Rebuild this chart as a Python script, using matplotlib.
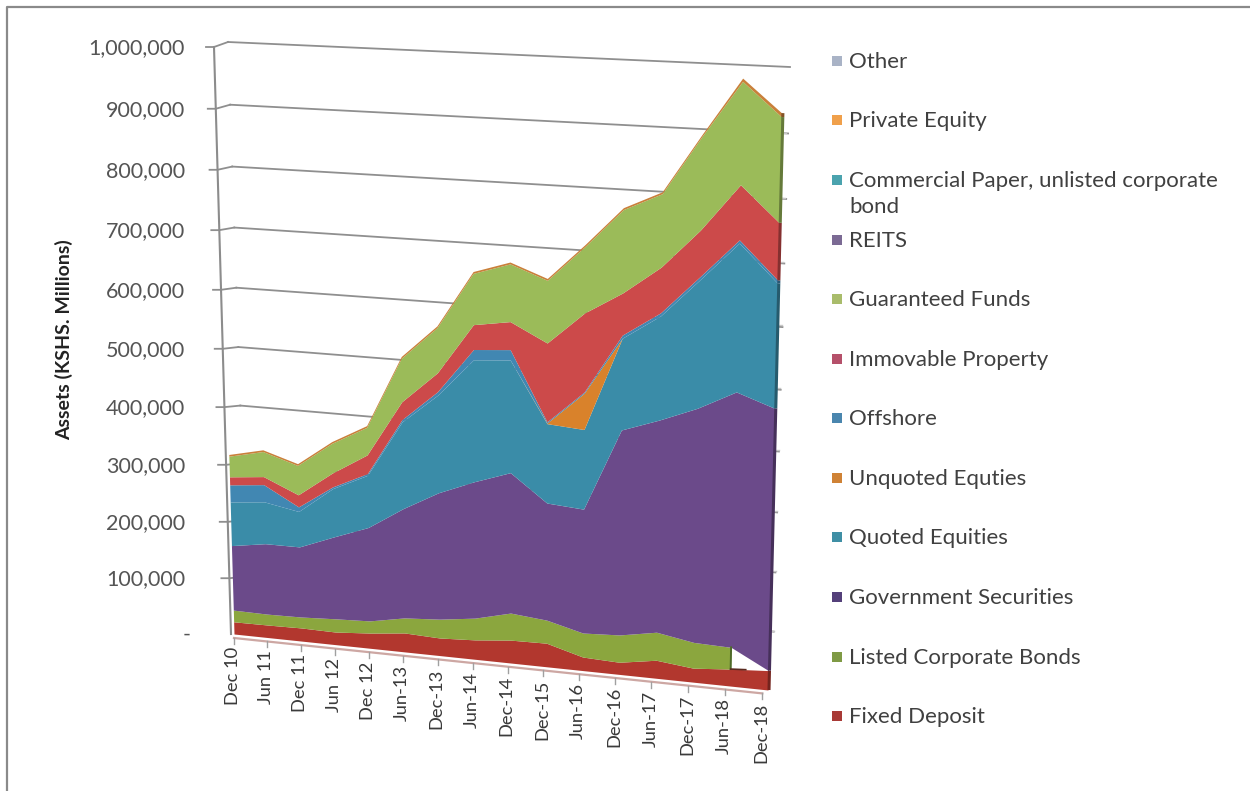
#!/usr/bin/env python3
"""Pension scheme assets by category, stacked area on a tilted plane."""
import numpy as np
import matplotlib
matplotlib.use('Agg')
import matplotlib.pyplot as plt
import matplotlib.transforms as mtransforms
from matplotlib.colors import to_rgb

plt.rcParams['font.family'] = ['Lato', 'DejaVu Sans']

periods = ['Dec 10', 'Jun 11', 'Dec 11', 'Jun 12', 'Dec 12', 'Jun-13', 'Dec-13', 'Jun-14',
           'Dec-14', 'Dec-15', 'Jun-16', 'Dec-16', 'Jun-17', 'Dec-17', 'Jun-18', 'Dec-18']

# KSHS millions, bottom of the stack first
fixed_deposit = [22000, 22500, 23500, 22500, 27000, 33500, 31000, 34000,
                 40000, 41000, 23500, 21000, 31000, 24000, 29000, 33000]
listed_bonds = [21000, 19500, 19500, 23500, 21500, 26500, 33000, 38000,
                47000, 40000, 41500, 47000, 48000, 44000, 37000, np.nan]
government = [115000, 125000, 124000, 144000, 163500, 190000, 218500, 234500,
              240000, 200000, 211000, 345000, 355000, 390000, 423000, 434000]
quoted = [77000, 73500, 62000, 84000, 90000, 148000, 165000, 204500,
          188000, 133000, 133000, 150000, 169000, 206000, 237000, 199000]
unquoted = [0, 0, 0, 0, 0, 0, 0, 0, 0, 1000, 60000, 0, 0, 0, 0, 0]
offshore = [30000, 30000, 8000, 3000, 3000, 4000, 6000, 17000,
            17000, 2000, 2000, 5000, 5000, 5000, 5000, 5000]
immovable = [14000, 14000, 21000, 24000, 32000, 30000, 31500, 41000,
             46000, 130000, 129000, 68000, 73000, 74000, 86000, 90000]
guaranteed = [36000, 43500, 51000, 51000, 47000, 73000, 75000, 84000,
              94000, 102000, 107000, 133000, 116000, 146000, 159000, 163000]
private_equity = [3000, 3000, 3000, 3000, 3000, 3000, 3000, 3000,
                  3000, 3000, 3000, 3000, 3000, 3000, 5000, 6000]

stack = [
    (fixed_deposit, '#B2372E'),
    (listed_bonds, '#8BA63E'),
    (government, '#6B4A8A'),
    (quoted, '#3A8CA8'),
    (unquoted, '#D9822B'),
    (offshore, '#4187B2'),
    (immovable, '#CC4A4A'),
    (guaranteed, '#9BBB59'),
    (private_equity, '#C9803A'),
]

yticks = [0, 100000, 200000, 300000, 400000, 500000, 600000, 700000, 800000, 900000, 1000000]

legend_names = ['Other', 'Private Equity', 'Commercial Paper, unlisted corporate\nbond', 'REITS',
                'Guaranteed Funds', 'Immovable Property', 'Offshore', 'Unquoted Equties',
                'Quoted Equities', 'Government Securities', 'Listed Corporate Bonds', 'Fixed Deposit']
legend_colors = ['#A9B3C6', '#F0A04B', '#4BA3AE', '#7B6A94', '#A9BC6B', '#B5506A',
                 '#4A86AE', '#CF8235', '#3F8FA5', '#54407A', '#7F9A45', '#A83A36']


class Perspective(mtransforms.Transform):
    """Maps (period index, value) onto a tilted plane given by its four corners."""
    input_dims = 2
    output_dims = 2

    def __init__(self, x_max, y_max, bl, tl, br, tr):
        super().__init__()
        self.x_max, self.y_max = x_max, y_max
        src = [(0, 0), (0, 1), (1, 0), (1, 1)]
        dst = [bl, tl, br, tr]
        A, b = [], []
        for (u, v), (x, y) in zip(src, dst):
            A.append([u, v, 1, 0, 0, 0, -u * x, -v * x])
            A.append([0, 0, 0, u, v, 1, -u * y, -v * y])
            b.extend([x, y])
        self.h = np.append(np.linalg.solve(np.array(A, float), np.array(b, float)), 1).reshape(3, 3)

    def transform_non_affine(self, values):
        values = np.asarray(values, float)
        pts = np.column_stack([values[:, 0] / self.x_max, values[:, 1] / self.y_max, np.ones(len(values))])
        out = pts @ self.h.T
        return out[:, :2] / out[:, 2:3]


fig = plt.figure(figsize=(12.5, 7.91), dpi=100)
ax = fig.add_axes([0, 0, 1, 1])
ax.set_xlim(0, 1250)
ax.set_ylim(791, 0)
ax.axis('off')

last = len(periods) - 1
top = yticks[-1]
area_plane = Perspective(last, top, (234, 634), (217, 47), (768, 690), (783, 67))
wall_plane = Perspective(last, top, (248, 632), (228, 42), (772, 690), (790, 67))
area_tr = area_plane + ax.transData
wall_tr = wall_plane + ax.transData
axis_tr = area_plane + mtransforms.Affine2D().translate(-3, 0) + ax.transData
floor_tr = area_plane + mtransforms.Affine2D().translate(0, 4) + ax.transData

xs = np.arange(len(periods))

# gridlines sit on the back wall, joined to the ticks by a short step
for v in yticks[1:]:
    ax.plot([0, last], [v, v], color='#8F8F8F', lw=1.3, transform=wall_tr, zorder=1)
    ax0, ay0 = area_plane.transform_non_affine(np.array([[0, v]]))[0] + np.array([-3, 0])
    wx0, wy0 = wall_plane.transform_non_affine(np.array([[0, v]]))[0]
    ax.plot([ax0 - 8, ax0, wx0], [ay0, ay0, wy0], color='#8F8F8F', lw=1.3, zorder=1)

# stacked layers
base = np.zeros(len(periods))
for values, color in stack:
    values = np.array(values, float)
    upper = base + np.nan_to_num(values)
    ax.fill_between(xs, base, upper, where=~np.isnan(values), color=color, lw=0,
                    transform=area_tr, zorder=3)
    if np.isnan(values).any():
        # series stops early: dark end cap plus a stub of floor under the gap
        end = np.flatnonzero(~np.isnan(values))[-1]
        ax.plot([end, end], [base[end], upper[end]], color='#4E6A2A', lw=1.4, transform=area_tr, zorder=4)
        ax.plot([end, end + 0.4], [base[end], base[end] + (base[end + 1] - base[end]) * 0.4],
                color='#5A2A20', lw=1.2, transform=area_tr, zorder=4)
    if upper[last] > base[last]:
        dark = tuple(c * 0.65 for c in to_rgb(color))
        side_tr = area_plane + mtransforms.Affine2D().translate(1, 0) + ax.transData
        ax.plot([last, last], [base[last], upper[last]], color=dark, lw=2.2,
                transform=side_tr, zorder=4, solid_capstyle='butt')
    base = upper

# axes
ax.plot([0, 0], [0, top], color='#8C8C8C', lw=1.5, transform=axis_tr, zorder=2)
tick_x = xs * 0.99
ax.plot([tick_x[0], tick_x[-1]], [0, 0], color='#CDA7A3', lw=1.6, transform=floor_tr, zorder=2)
for i, name in zip(tick_x, periods):
    px, py = area_plane.transform_non_affine(np.array([[i, 0]]))[0]
    ax.plot([px, px], [py + 4, py + 10], color='#A0A0A0', lw=1.0, zorder=2)
    ax.text(px - 1, py + 13, name, rotation=90, ha='center', va='top', fontsize=13.2, color='#3A3A3A')

# faint ticks along the far edge
for v in yticks[1:-1]:
    px, py = area_plane.transform_non_affine(np.array([[last, v]]))[0]
    ax.plot([px + 1, px + 5], [py, py], color='#C8C8C8', lw=1.0, zorder=2)

for v in yticks:
    px, py = area_plane.transform_non_affine(np.array([[0, v]]))[0]
    text = f'{v:,}' if v else '-'
    ax.text(185 if v else 191, py + 1, text, ha='right', va='center', fontsize=15.5, color='#555555')

ax.text(64, 340, 'Assets (KSHS. Millions)', rotation=90, ha='center', va='center',
        fontsize=14, fontweight='bold', color='#222222')

legend_y = [61, 120, 180, 240, 299, 359, 418, 478, 537, 597, 657, 716]
for name, color, y in zip(legend_names, legend_colors, legend_y):
    ax.plot([837], [y], marker='s', ms=7.5, color=color, mew=0, ls='none')
    ax.text(849, y - 9, name, ha='left', va='top', fontsize=16, color='#404040', linespacing=1.35)

# outer frame
ax.plot([7, 7, 1250], [791, 7, 7], color='#8A8A8A', lw=1.6, zorder=5)

fig.savefig('out.png', dpi=100)
